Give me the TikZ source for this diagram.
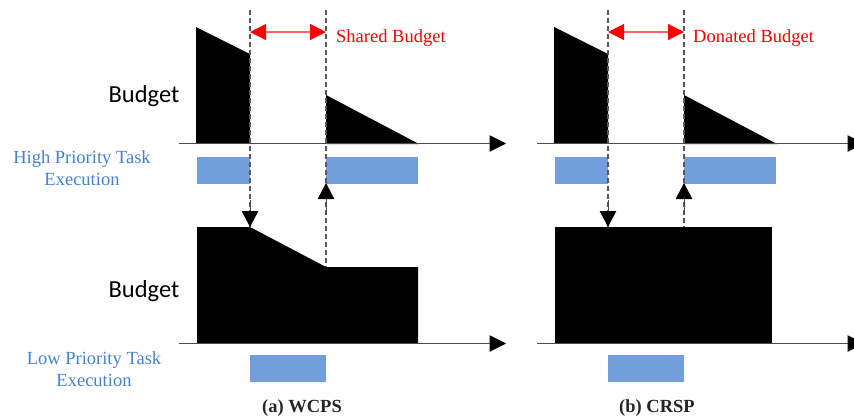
\documentclass[tikz,border=0pt]{standalone}
\usepackage{fontspec}
\setmainfont{Liberation Serif}
\newfontfamily\budgetfont{Carlito}
\usetikzlibrary{arrows.meta}
\definecolor{barblue}{HTML}{729FDB}
\definecolor{labelblue}{HTML}{4580D6}
\tikzset{
  x=1pt,y=-1pt,
  solidshape/.style={fill=black,draw=none},
  taskbar/.style={fill=barblue,draw=none},
  axisline/.style={draw=black!70,line width=1pt,-{Triangle[length=16.5pt,width=16.5pt,color=black]}},
  guide/.style={draw=black!65,line width=1.1pt,dash pattern=on 5pt off 3pt},
  flowarrow/.style={draw=black!70,line width=1pt,-{Triangle[length=16pt,width=16.5pt,color=black]}},
  span/.style={draw=red!60,line width=1.1pt,{Triangle[length=16pt,width=16pt,color=red]}-{Triangle[length=16pt,width=16pt,color=red]}},
  budgetlabel/.style={font=\budgetfont\fontsize{24.5}{28}\selectfont,inner sep=0pt,text=black},
  bluelabel/.style={font=\fontsize{18.5}{22}\selectfont,text=labelblue,align=center,inner sep=0pt},
  redlabel/.style={font=\fontsize{18.5}{20}\selectfont,text=red,inner sep=0pt,anchor=west},
  caption/.style={font=\bfseries\fontsize{18.5}{20}\selectfont,text=black!85,inner sep=0pt}
}
\begin{document}
\begin{tikzpicture}
\useasboundingbox (0,0) rectangle (854,418);
\clip (0,0) rectangle (854,418);
% left panel shapes
\fill[solidshape] (196,27) -- (250,54) -- (250,143.5) -- (196,143.5) -- cycle;
\fill[solidshape] (326,95) -- (419,144) -- (326,144) -- cycle;
\fill[solidshape] (197,227) -- (250,227) -- (326,267) -- (418,267) -- (418,343) -- (197,343) -- cycle;
\fill[taskbar] (197,157) rectangle (250,184);
\fill[taskbar] (326,157) rectangle (418,184);
\fill[taskbar] (250,355) rectangle (326,382);
% right panel shapes
\fill[solidshape] (554,27) -- (608,54) -- (608,143.5) -- (554,143.5) -- cycle;
\fill[solidshape] (684,95) -- (777,144) -- (684,144) -- cycle;
\fill[solidshape] (555,227) rectangle (772,343);
\fill[taskbar] (555,157) rectangle (608,184);
\fill[taskbar] (684,157) rectangle (776,184);
\fill[taskbar] (608,355) rectangle (684,382);
% end points
\coordinate (a1s) at (179,143.5); \coordinate (a1e) at (506,143.5);
\coordinate (a2s) at (179,343.5); \coordinate (a2e) at (506,343.5);
\coordinate (a3s) at (537,143.5); \coordinate (a3e) at (864,143.5);
\coordinate (a4s) at (537,343.5); \coordinate (a4e) at (864,343.5);
\coordinate (g1t) at (250,10); \coordinate (g1b) at (250,227);
\coordinate (g2t) at (326,10); \coordinate (g2b) at (326,267);
\coordinate (g3t) at (608,10); \coordinate (g3b) at (608,227);
\coordinate (g4t) at (684,10); \coordinate (g4b) at (684,227);
\coordinate (u1) at (326,183); \coordinate (u2) at (684,183);
\coordinate (s1) at (250,32); \coordinate (s2) at (326,32);
\coordinate (s3) at (608,32); \coordinate (s4) at (684,32);
% axes
\draw[axisline] (a1s) -- (a1e);
\draw[axisline] (a2s) -- (a2e);
\draw[axisline] (a3s) -- (a3e);
\draw[axisline] (a4s) -- (a4e);
% guides
\draw[guide] (g1t) -- (g1b);
\draw[guide] (g2t) -- (g2b);
\draw[guide] (g3t) -- (g3b);
\draw[guide] (g4t) -- (g4b);
% arrowheads
\draw[flowarrow] (250,200) -- (g1b);
\draw[flowarrow] (326,215) -- (u1);
\draw[flowarrow] (608,200) -- (g3b);
\draw[flowarrow] (684,215) -- (u2);
\draw[span] (s1) -- (s2);
\draw[span] (s3) -- (s4);
% labels
\node[redlabel] (sb) at (336,38) {Shared Budget};
\node[redlabel] (db) at (693,38) {Donated Budget};
\node[budgetlabel] (b1) at (144,96) {Budget};
\node[budgetlabel] (b2) at (144,291) {Budget};
\node[bluelabel] (hp) at (82,168) {High Priority Task\\Execution};
\node[bluelabel] (lp) at (94,369) {Low Priority Task\\Execution};
\node[caption] (ca) at (302,408) {(a) WCPS};
\node[caption] (cb) at (657,408) {(b) CRSP};
\end{tikzpicture}
\end{document}
